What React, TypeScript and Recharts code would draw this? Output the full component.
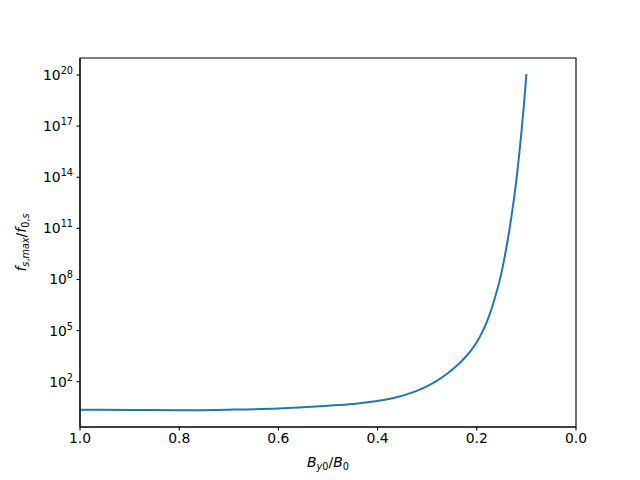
import React from "react";
import {
  LineChart,
  Line,
  XAxis,
  YAxis,
  ReferenceArea,
} from "recharts";

// B_y0/B_0 values (descending, as drawn left to right)
const fieldRatio = [
  1.0, 0.9, 0.8, 0.7, 0.6, 0.55, 0.5, 0.45, 0.42, 0.4, 0.38, 0.36, 0.34, 0.32,
  0.3, 0.28, 0.26, 0.25, 0.24, 0.23, 0.22, 0.21, 0.2, 0.19, 0.18, 0.17, 0.16,
  0.15, 0.145, 0.14, 0.135, 0.13, 0.125, 0.12, 0.115, 0.11, 0.105, 0.1,
];

// f_s,max / f_0,s
const fRatio = [
  2.29, 2.19, 2.14, 2.29, 2.69, 3.16, 3.9, 5.0, 6.3, 7.5, 9.3, 12.6, 18.6,
  30.2, 55, 117, 295, 501, 891, 1698, 3467, 7943, 21380, 70790, 316200, 2.0e6,
  1.9e7, 2.7e8, 1.38e9, 8.3e9, 6.0e10, 5.2e11, 5.6e12, 7.9e13, 1.6e15, 4.5e16,
  1.8e18, 1.12e20,
];

const xTicks = [1.0, 0.8, 0.6, 0.4, 0.2, 0.0];
const yTicks = [1e2, 1e5, 1e8, 1e11, 1e14, 1e17, 1e20];
const yDomain = [0.22, 1e21];

const data = fieldRatio.map((b, i) => ({ b, f: fRatio[i] }));

const FONT = "DejaVu Sans";
const FS = 13.9;

function PowerTick({ x, y, payload }: any) {
  const exp = Math.round(Math.log10(payload.value));
  return (
    <text x={x} y={y} dy={5} textAnchor="end" fontFamily={FONT} fontSize={FS} fill="#000">
      <tspan>10</tspan>
      <tspan dy={-6} fontSize={9.7}>{exp}</tspan>
    </text>
  );
}

function XTitle({ viewBox }: any) {
  const cx = viewBox.x + viewBox.width / 2;
  const cy = viewBox.y + 40;
  return (
    <text x={cx} y={cy} textAnchor="middle" fontFamily={FONT} fontSize={FS} fill="#000">
      <tspan fontStyle="italic">B</tspan>
      <tspan dy={3} fontSize={9.7} fontStyle="italic">y</tspan>
      <tspan fontSize={9.7}>0</tspan>
      <tspan dy={-3}>/</tspan>
      <tspan fontStyle="italic">B</tspan>
      <tspan dy={3} fontSize={9.7}>0</tspan>
    </text>
  );
}

function YTitle({ viewBox }: any) {
  const cx = 26;
  const cy = viewBox.y + viewBox.height / 2;
  return (
    <text
      x={cx}
      y={cy}
      textAnchor="middle"
      transform={`rotate(-90, ${cx}, ${cy})`}
      fontFamily={FONT}
      fontSize={FS}
      fill="#000"
    >
      <tspan fontStyle="italic">f</tspan>
      <tspan dy={3} fontSize={9.7} fontStyle="italic">s</tspan>
      <tspan fontSize={9.7}>,</tspan>
      <tspan fontSize={9.7} fontStyle="italic">max</tspan>
      <tspan dy={-3}>/</tspan>
      <tspan fontStyle="italic">f</tspan>
      <tspan dy={3} fontSize={9.7}>0,</tspan>
      <tspan fontSize={9.7} fontStyle="italic">s</tspan>
    </text>
  );
}

export default function App() {
  return (
    <div style={{ position: "absolute", left: 0, top: 0, width: 640, height: 480, background: "#fff" }}>
      <LineChart
        width={640}
        height={480}
        data={data}
        margin={{ top: 58, right: 64, bottom: 0, left: 0 }}
      >
        <XAxis
          dataKey="b"
          type="number"
          domain={[0, 1]}
          reversed
          ticks={xTicks}
          tickFormatter={(v: number) => v.toFixed(1)}
          height={53}
          tickSize={3.5}
          tickMargin={3}
          axisLine={{ stroke: "#000", strokeWidth: 1.1 }}
          tickLine={{ stroke: "#000", strokeWidth: 1.1 }}
          tick={{ fill: "#000", fontSize: FS, fontFamily: FONT }}
          label={{ content: (p: any) => <XTitle {...p} /> }}
        />
        <YAxis
          dataKey="f"
          scale="log"
          domain={yDomain}
          allowDataOverflow
          ticks={yTicks}
          width={80}
          tickSize={3.5}
          tickMargin={3.5}
          axisLine={{ stroke: "#000", strokeWidth: 1.1 }}
          tickLine={{ stroke: "#000", strokeWidth: 1.1 }}
          tick={<PowerTick />}
          label={{ content: (p: any) => <YTitle {...p} /> }}
        />
        <ReferenceArea
          x1={0}
          x2={1}
          y1={yDomain[0]}
          y2={yDomain[1]}
          fill="none"
          stroke="#000"
          strokeWidth={1.1}
          fillOpacity={0}
        />
        <Line
          type="monotone"
          dataKey="f"
          stroke="#1f77b4"
          strokeWidth={2}
          dot={false}
          isAnimationActive={false}
        />
      </LineChart>
    </div>
  );
}
